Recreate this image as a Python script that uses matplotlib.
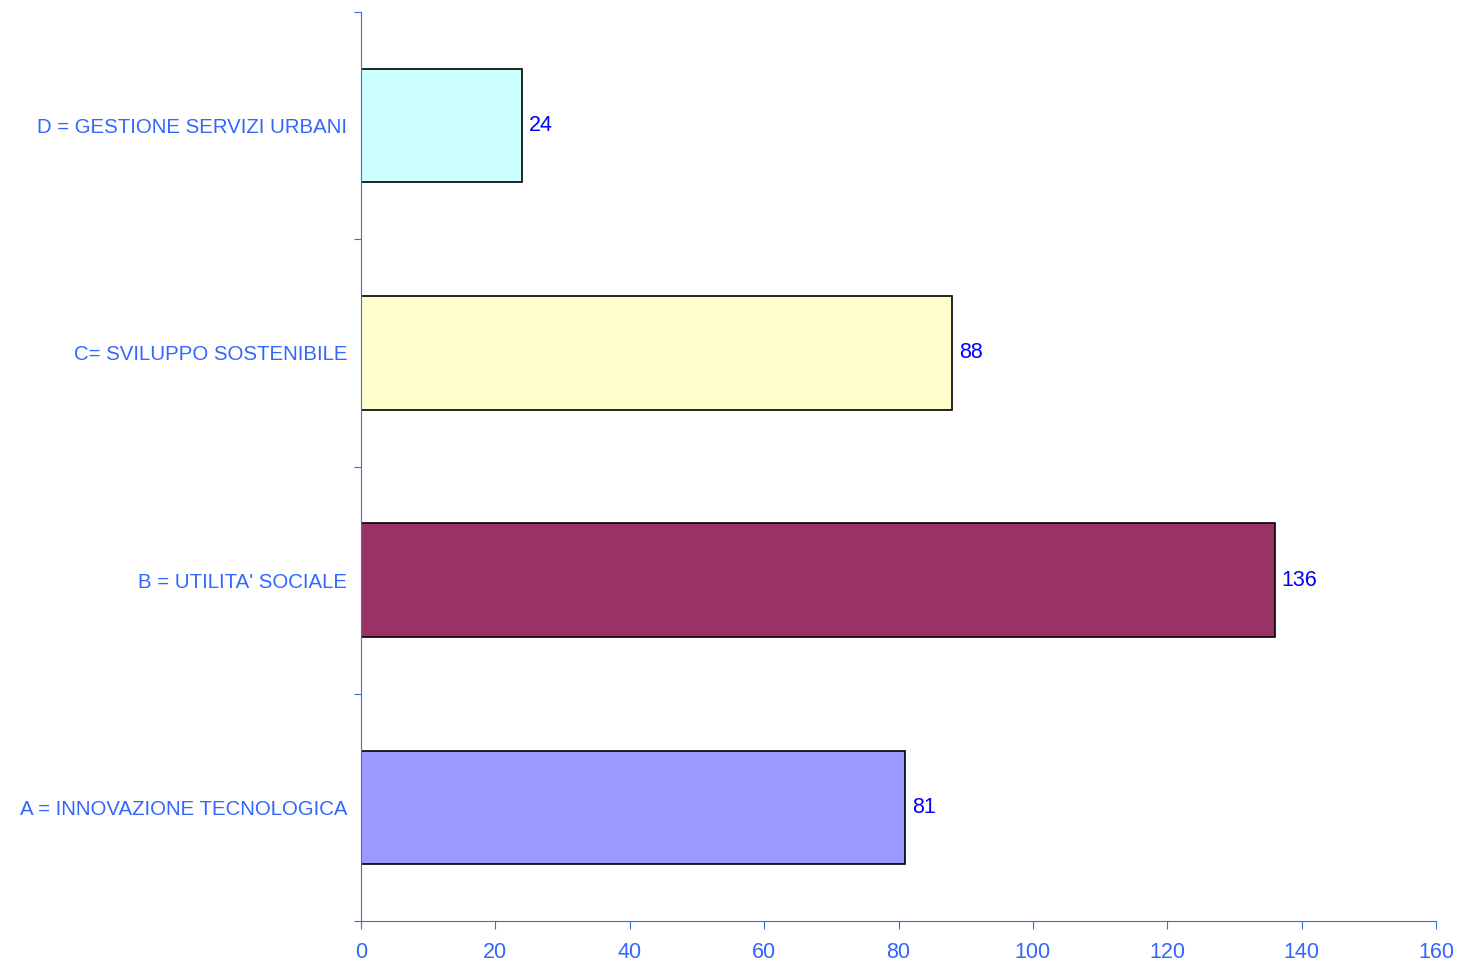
import matplotlib
matplotlib.use("Agg")
import matplotlib.pyplot as plt

plt.rcParams['font.family'] = ['Liberation Sans', 'DejaVu Sans']

categories = ["A = INNOVAZIONE TECNOLOGICA", "B = UTILITA' SOCIALE",
              "C= SVILUPPO SOSTENIBILE", "D = GESTIONE SERVIZI URBANI"]
values = [81, 136, 88, 24]
colors = ["#9999FF", "#993366", "#FFFFCC", "#CCFFFF"]

axis_col = "#4169E1"
label_col = "#3366FF"

fig = plt.figure(figsize=(14.6, 9.64), dpi=100)
ax = fig.add_axes([361 / 1460, 43 / 964, 1075 / 1460, 909 / 964])

ypos = list(range(len(categories)))
ax.barh(ypos, values, height=0.5, color=colors, edgecolor="black", linewidth=1.2)

for y, v in zip(ypos, values):
    ax.text(v + 1, y, str(v), va="center", ha="left", fontsize=15.5, color="#0000FF")

ax.set_xlim(0, 160)
ax.set_ylim(-0.5, 3.5)
ax.set_xticks(range(0, 161, 20))
ax.set_yticks([y - 0.5 for y in range(len(categories) + 1)])
ax.set_yticklabels([])
ax.set_yticks(ypos, minor=True)
ax.set_yticklabels(categories, minor=True)

for s in ["top", "right"]:
    ax.spines[s].set_visible(False)
for s in ["left", "bottom"]:
    ax.spines[s].set_color(axis_col)

ax.tick_params(axis="x", colors=axis_col, labelcolor=label_col, labelsize=15.5,
               direction="out", length=6, pad=9)
ax.tick_params(axis="y", which="major", colors=axis_col, direction="out", length=5)
ax.tick_params(axis="y", which="minor", length=0, pad=14, labelsize=14.7,
               labelcolor=label_col)
for t in ax.get_yticklabels(minor=True):
    t.set_x(-0.001)
ax.tick_params(axis="y", which="minor", pad=9)

fig.savefig("out.png", dpi=100)
